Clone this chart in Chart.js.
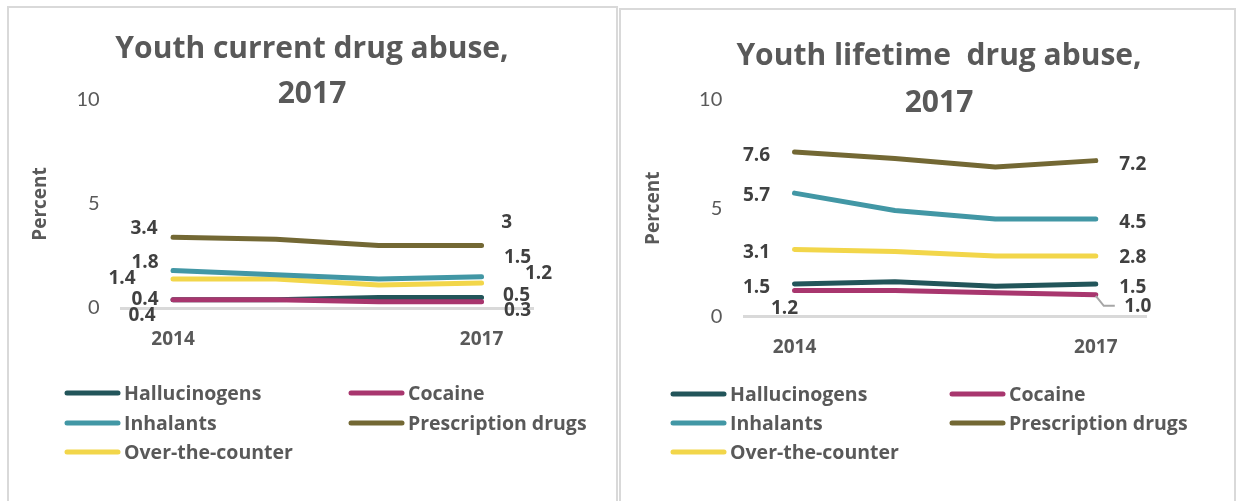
<!DOCTYPE html>
<html>
<head>
<meta charset="utf-8">
<script src="https://cdn.jsdelivr.net/npm/chart.js@4/dist/chart.umd.min.js"></script>
<style>
  body { margin: 0; background: #fff; width: 1236px; height: 501px; overflow: hidden; }
  .panel { position: absolute; border: 2px solid #d9d9d9; background: #fff; }
  #p1 { left: 7px; top: 6px; width: 607px; height: 500px; }
  #p2 { left: 619px; top: 8px; width: 613px; height: 500px; }
  canvas { display: block; }
</style>
</head>
<body>
<div class="panel" id="p1"><canvas id="current-chart" width="607" height="500"></canvas></div>
<div class="panel" id="p2"><canvas id="lifetime-chart" width="613" height="500"></canvas></div>
<script>
// data
const years = ['2014', '2015', '2016', '2017'];
const tickLabels = ['2014', '', '', '2017'];
const seriesNames = ['Hallucinogens', 'Cocaine', 'Inhalants', 'Prescription drugs', 'Over-the-counter'];

const currentHallucinogens = [0.4, 0.4, 0.5, 0.5];
const currentCocaine = [0.4, 0.4, 0.3, 0.3];
const currentInhalants = [1.8, 1.6, 1.4, 1.5];
const currentPrescription = [3.4, 3.3, 3.0, 3.0];
const currentOtc = [1.4, 1.4, 1.1, 1.2];

const lifetimeHallucinogens = [1.5, 1.6, 1.4, 1.5];
const lifetimeCocaine = [1.2, 1.2, 1.1, 1.0];
const lifetimeInhalants = [5.7, 4.9, 4.5, 4.5];
const lifetimePrescription = [7.6, 7.3, 6.9, 7.2];
const lifetimeOtc = [3.1, 3.0, 2.8, 2.8];

const colors = ['#22555a', '#a8366e', '#4297a5', '#736834', '#f2d64a'];
// drawing order: cocaine above hallucinogens
const drawOrder = [2, 1, 3, 4, 5];

const FONT = 'Lato, "Open Sans", sans-serif';
const BOLD = '"Open Sans", Lato, sans-serif';
const GRAY = '#595959';

// title drawn over the plot area (the "10" tick sits beside the second line)
const titlePlugin = {
    id: 'panelTitle',
    afterDraw(chart, args, opts) {
        const ctx = chart.ctx;
        ctx.save();
        ctx.font = 'bold 30px ' + BOLD;
        ctx.fillStyle = GRAY;
        ctx.textAlign = 'center';
        ctx.textBaseline = 'middle';
        opts.lines.forEach((line, i) => {
            ctx.fillText(line, opts.x, opts.ys[i]);
        });
        ctx.restore();
    }
};

// value labels at the first and last point of each line
const endLabels = {
    id: 'endLabels',
    afterDatasetsDraw(chart, args, opts) {
        const ctx = chart.ctx;
        ctx.save();
        ctx.font = 'bold 19px ' + BOLD;
        ctx.fillStyle = '#404040';
        ctx.textAlign = 'center';
        ctx.textBaseline = 'middle';
        chart.data.datasets.forEach((ds, i) => {
            const meta = chart.getDatasetMeta(i);
            const ends = [0, ds.data.length - 1];
            ends.forEach((idx, k) => {
                const pt = meta.data[idx];
                const off = opts.offsets[i][k];
                const v = ds.data[idx];
                const text = opts.fixed ? v.toFixed(1) : String(v);
                ctx.fillText(text, pt.x + off[0], pt.y + off[1]);
            });
        });
        if (opts.leader) {
            const pt = chart.getDatasetMeta(opts.leader.dataset).data[opts.leader.index];
            ctx.strokeStyle = '#a6a6a6';
            ctx.lineWidth = 2;
            ctx.beginPath();
            opts.leader.path.forEach((p, j) => {
                if (j === 0) ctx.moveTo(pt.x + p[0], pt.y + p[1]);
                else ctx.lineTo(pt.x + p[0], pt.y + p[1]);
            });
            ctx.stroke();
        }
        ctx.restore();
    }
};

// two-column legend under the plot
const columnLegend = {
    id: 'columnLegend',
    afterDraw(chart, args, opts) {
        const ctx = chart.ctx;
        ctx.save();
        ctx.font = 'bold 19.5px ' + BOLD;
        ctx.textBaseline = 'middle';
        ctx.textAlign = 'left';
        ctx.lineCap = 'round';
        ctx.lineWidth = 5;
        chart.data.datasets.forEach((ds, i) => {
            const x = opts.cols[i % 2];
            const y = opts.rows[Math.floor(i / 2)];
            ctx.strokeStyle = ds.borderColor;
            ctx.beginPath();
            ctx.moveTo(x + 2, y);
            ctx.lineTo(x + 53, y);
            ctx.stroke();
            ctx.fillStyle = GRAY;
            ctx.fillText(ds.label, x + 59, y + 1.5);
        });
        ctx.restore();
    }
};

function makeDatasets(values) {
    return values.map((data, i) => ({
        label: seriesNames[i],
        data,
        borderColor: colors[i],
        backgroundColor: colors[i],
        borderWidth: 5,
        borderCapStyle: 'round',
        borderJoinStyle: 'round',
        pointRadius: 0,
        tension: 0,
        order: drawOrder[i]
    }));
}

function makeChart(id, values, cfg) {
    return new Chart(document.getElementById(id), {
        type: 'line',
        data: { labels: years, datasets: makeDatasets(values) },
        plugins: [titlePlugin, endLabels, columnLegend],
        options: {
            responsive: false,
            animation: false,
            devicePixelRatio: 1,
            layout: { padding: cfg.padding },
            plugins: {
                legend: { display: false },
                tooltip: { enabled: false },
                title: { display: false },
                panelTitle: cfg.title,
                endLabels: cfg.labels,
                columnLegend: cfg.legend
            },
            scales: {
                x: {
                    type: 'category',
                    offset: true,
                    grid: { display: false, drawTicks: false },
                    border: { display: true, color: '#d9d9d9', width: 3 },
                    ticks: {
                        color: GRAY,
                        font: { family: BOLD, size: 19, weight: 'bold' },
                        padding: 20,
                        autoSkip: false,
                        maxRotation: 0,
                        callback: (value, index) => tickLabels[index]
                    },
                    afterFit: scale => { scale.height = 60; }
                },
                y: {
                    min: 0,
                    max: 10,
                    grid: { display: false, drawTicks: false },
                    border: { display: false },
                    ticks: {
                        stepSize: 5,
                        color: GRAY,
                        font: { family: FONT, size: 20 },
                        padding: 22
                    },
                    title: {
                        display: true,
                        text: 'Percent',
                        color: GRAY,
                        font: { family: BOLD, size: 19, weight: 'bold' },
                        padding: 0
                    },
                    afterFit: scale => { scale.width = cfg.yWidth; }
                }
            }
        }
    });
}

makeChart('current-chart',
    [currentHallucinogens, currentCocaine, currentInhalants, currentPrescription, currentOtc],
    {
        padding: { left: 20, right: 83, top: 92, bottom: 140 },
        yWidth: 92.6,
        title: { lines: ['Youth current drug abuse,', '2017'], x: 303, ys: [41, 86] },
        labels: {
            fixed: false,
            offsets: [
                [[-28, 0], [35, -2]],
                [[-31, 16], [36, 9]],
                [[-28, -8], [36, -19]],
                [[-29, -9], [25, -23]],
                [[-51, 0], [57, -9]]
            ]
        },
        legend: { cols: [56, 340], rows: [385, 415, 444] }
    }
);

makeChart('lifetime-chart',
    [lifetimeHallucinogens, lifetimeCocaine, lifetimeInhalants, lifetimePrescription, lifetimeOtc],
    {
        padding: { left: 21, right: 88, top: 90, bottom: 133.5 },
        yWidth: 102.3,
        title: { lines: ['Youth lifetime  drug abuse,', '2017'], x: 318, ys: [46, 93] },
        labels: {
            fixed: true,
            offsets: [
                [[-38, 4], [37, 4]],
                [[-10, 18], [42, 12]],
                [[-38, 2], [37, 4]],
                [[-38, 4], [37, 4]],
                [[-38, 3], [37, 2]]
            ],
            leader: { dataset: 1, index: 3, path: [[0, 1], [8, 11], [19, 11]] }
        },
        legend: { cols: [50, 329], rows: [384, 413, 442] }
    }
);
</script>
</body>
</html>
